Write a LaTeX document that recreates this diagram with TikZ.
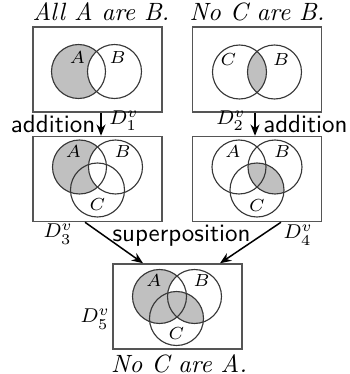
\documentclass[tikz,border=0pt]{standalone}
\usepackage{tikz}
\usetikzlibrary{
  arrows.meta,
  positioning
}
\definecolor{venngray}{RGB}{192,192,192}
\definecolor{framegray}{RGB}{85,85,85}
\definecolor{ringgray}{RGB}{55,55,55}
\tikzset{
  frame/.style={
    rectangle, draw=framegray, line width=0.6pt,
    minimum width=51.6pt, minimum height=34pt, inner sep=0pt
  },
  ring/.style={draw=ringgray, line width=0.45pt},
  shade/.style={fill=venngray},
  setname/.style={font=\scriptsize, inner sep=0pt},
  opname/.style={font=\sffamily, inner sep=0pt},
  dname/.style={font=\footnotesize, inner sep=0pt},
  title/.style={font=\itshape, inner sep=0pt},
  arrow/.style={-{Stealth[length=4.5pt,width=3.6pt]}, line width=0.6pt, black}
}

\begin{document}
\begin{tikzpicture}[x=0.4pt, y=-0.4pt]
\useasboundingbox (0,0) rectangle (349,374);

% diagram frames
\node[frame] (box1) at (97.5,69.5)  {};
\node[frame] (box2) at (257,69.5)   {};
\node[frame] (box3) at (97.5,179)   {};
\node[frame] (box4) at (257,179)    {};
\node[frame] (box5) at (177.5,306.5){};

% circle centres
\coordinate (a1) at ([shift={(-19,2)}]box1.center);
\coordinate (b1) at ([shift={(17,2)}]box1.center);
\coordinate (c2) at ([shift={(-17.5,2.5)}]box2.center);
\coordinate (b2) at ([shift={(17.5,2.5)}]box2.center);
\coordinate (a3) at ([shift={(-18,-12)}]box3.center);
\coordinate (b3) at ([shift={(18,-12)}]box3.center);
\coordinate (c3) at ([shift={(0,11)}]box3.center);
\coordinate (a4) at ([shift={(-18,-12)}]box4.center);
\coordinate (b4) at ([shift={(18,-12)}]box4.center);
\coordinate (c4) at ([shift={(0,11)}]box4.center);
\coordinate (a5) at ([shift={(-18,-10)}]box5.center);
\coordinate (b5) at ([shift={(17,-10)}]box5.center);
\coordinate (c5) at ([shift={(-1,12)}]box5.center);

% shaded regions
\begin{scope}
  \clip (a1) circle (10.8pt);
  \fill[shade, even odd rule] (box1.south west) rectangle (box1.north east) (b1) circle (10.8pt);
\end{scope}
\begin{scope}
  \clip (c2) circle (10.8pt);
  \fill[shade] (b2) circle (10.8pt);
\end{scope}
\begin{scope}
  \clip (a3) circle (10.8pt);
  \fill[shade, even odd rule] (box3.south west) rectangle (box3.north east) (b3) circle (10.8pt);
\end{scope}
\begin{scope}
  \clip (c4) circle (10.8pt);
  \fill[shade] (b4) circle (10.8pt);
\end{scope}
\begin{scope}
  \clip (a5) circle (10.8pt);
  \fill[shade, even odd rule] (box5.south west) rectangle (box5.north east) (b5) circle (10.8pt);
\end{scope}
\begin{scope}
  \clip (c5) circle (10.8pt);
  \fill[shade] (b5) circle (10.8pt);
\end{scope}

% circles
\foreach \c in {a1,b1,c2,b2,a3,b3,c3,a4,b4,c4,a5,b5,c5}
  \draw[ring] (\c) circle (10.8pt);

% set names
\node[setname] at ([shift={(-1,-14)}]a1) {$A$};
\node[setname] at ([shift={(3,-14)}]b1)  {$B$};
\node[setname] at ([shift={(-11,-12)}]c2){$C$};
\node[setname] at ([shift={(6.5,-12)}]b2){$B$};
\node[setname] at ([shift={(-6,-15)}]a3) {$A$};
\node[setname] at ([shift={(7,-15)}]b3)  {$B$};
\node[setname] at ([shift={(0,15)}]c3)   {$C$};
\node[setname] at ([shift={(-6,-15)}]a4) {$A$};
\node[setname] at ([shift={(7,-15)}]b4)  {$B$};
\node[setname] at ([shift={(0,16)}]c4)   {$C$};
\node[setname] at ([shift={(-5.5,-16)}]a5){$A$};
\node[setname] at ([shift={(7,-16)}]b5)  {$B$};
\node[setname] at ([shift={(0,15)}]c5)   {$C$};

% statements
\node[title, above=2pt of box1, xshift=1.4pt] (t1) {All A are B.};
\node[title, above=2pt of box2]              (t2) {No C are B.};
\node[title, below=1.6pt of box5, xshift=0.6pt] (t5) {No C are A.};

% operations
\draw[arrow] ([xshift=1.4pt]box1.south) -- node[opname, midway, left=2pt]{addition}
  node[dname, pos=0.35, right=3pt]{$D_1^v$} ([xshift=1.4pt]box3.north);
\draw[arrow] ([xshift=-0.8pt]box2.south) -- node[opname, midway, right=3pt]{addition}
  node[dname, pos=0.35, left=3.5pt]{$D_2^v$} ([xshift=-0.8pt]box4.north);

\node[dname] at ([shift={(26,12)}]box3.south west)  {$D_3^v$};
\node[dname] at ([shift={(-24,13)}]box4.south east) {$D_4^v$};
\node[dname] at ([shift={(-17,12.5)}]box5.west)     {$D_5^v$};

\node[opname] (sup) at ([shift={(4,-28)}]box5.north) {superposition};
\draw[arrow] ([xshift=-5pt]box3.south) -- ([xshift=-13.8pt]box5.north);
\draw[arrow] ([xshift=9.6pt]box4.south) -- ([xshift=17pt]box5.north);
\end{tikzpicture}
\end{document}
